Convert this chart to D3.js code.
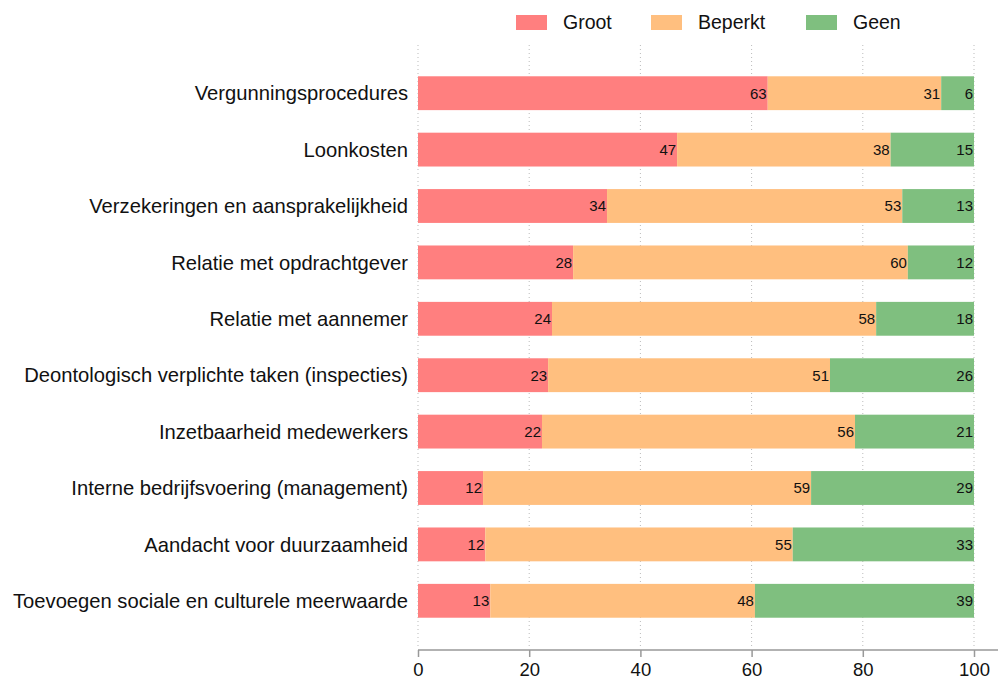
<!DOCTYPE html>
<html>
<head>
<meta charset="utf-8">
<script src="https://cdn.jsdelivr.net/npm/d3@7"></script>
<style>
  body { margin: 0; background: #fff; }
  svg { font-family: "Liberation Sans", Arial, Helvetica, sans-serif; }
</style>
</head>
<body>
<svg width="998" height="681"></svg>
<script>
// categories, top to bottom
const categories = [
    "Vergunningsprocedures",
    "Loonkosten",
    "Verzekeringen en aansprakelijkheid",
    "Relatie met opdrachtgever",
    "Relatie met aannemer",
    "Deontologisch verplichte taken (inspecties)",
    "Inzetbaarheid medewerkers",
    "Interne bedrijfsvoering (management)",
    "Aandacht voor duurzaamheid",
    "Toevoegen sociale en culturele meerwaarde"
];
const series = ["Groot", "Beperkt", "Geen"];
const groot   = [62.9, 46.6, 34.0, 27.9, 24.1, 23.4, 22.3, 11.7, 12.1, 13.0];
const beperkt = [31.2, 38.4, 53.1, 60.2, 58.3, 50.7, 56.3, 59.0, 55.3, 47.6];
const geen    = [ 5.9, 15.0, 12.9, 11.9, 17.6, 25.9, 21.4, 29.3, 32.6, 39.4];
const xTicks = [0, 20, 40, 60, 80, 100];

const colors = {Groot: "#ff7f7f", Beperkt: "#ffbf7f", Geen: "#7fbf7f"};

var svg = d3.select("svg");

// build table for stack
var table = categories.map(function(c, i) {
    return {cat: c, Groot: groot[i], Beperkt: beperkt[i], Geen: geen[i]};
});
var stacked = d3.stack().keys(series)(table);

var x = d3.scaleLinear().domain([0, 100]).range([418, 974]);
var y = d3.scaleBand().domain(categories).range([65, 629]).paddingInner(0.4).paddingOuter(0.2);

// dotted gridlines
svg.append("g")
    .selectAll("line")
    .data(xTicks)
    .enter()
    .append("line")
    .attr("x1", d => x(d))
    .attr("x2", d => x(d))
    .attr("y1", 45)
    .attr("y2", 646)
    .style("stroke", "#bbb")
    .style("stroke-width", 1)
    .style("stroke-dasharray", "1,3");

// bars
var groups = svg.append("g")
    .selectAll("g")
    .data(stacked)
    .enter()
    .append("g")
    .attr("fill", d => colors[d.key]);

groups.selectAll("rect")
    .data(d => d)
    .enter()
    .append("rect")
    .attr("x", d => x(d[0]))
    .attr("width", d => x(d[1]) - x(d[0]))
    .attr("y", d => y(d.data.cat))
    .attr("height", y.bandwidth());

// value labels at segment end
groups.selectAll("text")
    .data(d => d)
    .enter()
    .append("text")
    .attr("x", d => x(d[1]) - 1)
    .attr("y", d => y(d.data.cat) + y.bandwidth() / 2)
    .attr("dy", "0.36em")
    .attr("text-anchor", "end")
    .attr("font-size", 15)
    .attr("fill", "#111")
    .text(d => d3.format(".0f")(d[1] - d[0]));

// category labels
svg.append("g")
    .selectAll("text")
    .data(categories)
    .enter()
    .append("text")
    .attr("x", 408)
    .attr("y", d => y(d) + y.bandwidth() / 2)
    .attr("dy", "0.36em")
    .attr("text-anchor", "end")
    .attr("font-size", 20.2)
    .attr("fill", "#111")
    .text(d => d);

// x axis
var axis = svg.append("g")
    .attr("transform", "translate(0,650)")
    .call(d3.axisBottom(x).tickValues(xTicks).tickSize(7).tickPadding(6));
axis.select(".domain").remove();
axis.append("line")
    .attr("x1", x(0))
    .attr("x2", 998)
    .attr("stroke", "#999")
    .attr("stroke-width", 1.5);
axis.selectAll(".tick line").attr("stroke", "#999").attr("stroke-width", 1.5);
axis.selectAll(".tick text")
    .attr("font-size", 18.5)
    .attr("font-family", "Liberation Sans, Arial, sans-serif")
    .attr("fill", "#111");

// legend
var legendX = [516, 651, 806];
var legend = svg.append("g")
    .selectAll("g")
    .data(series)
    .enter()
    .append("g")
    .attr("transform", (d, i) => "translate(" + legendX[i] + ",15)");
legend.append("rect")
    .attr("width", 31)
    .attr("height", 15)
    .attr("fill", d => colors[d]);
legend.append("text")
    .attr("x", 47)
    .attr("y", 14)
    .attr("font-size", 19.5)
    .attr("fill", "#111")
    .text(d => d);
</script>
</body>
</html>
